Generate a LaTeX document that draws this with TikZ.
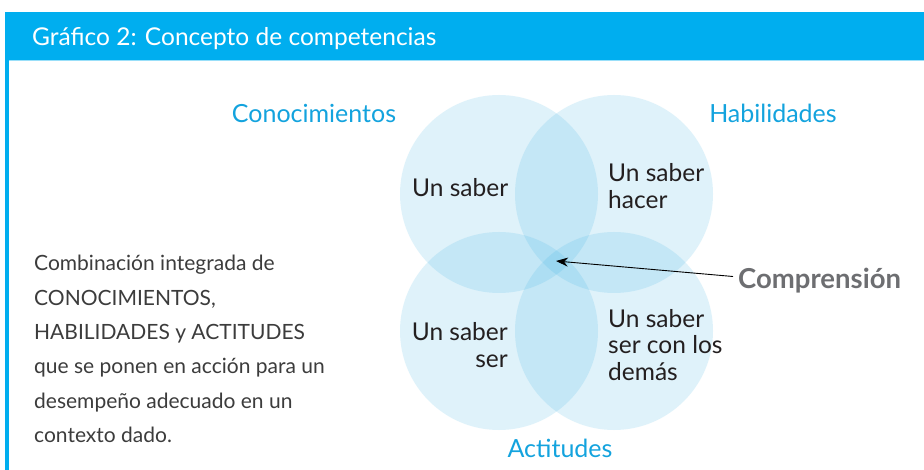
\documentclass[tikz,border=0pt]{standalone}
\usepackage{fontspec}
\setmainfont{Lato}
\usetikzlibrary{arrows.meta}
\definecolor{hdr}{HTML}{00AEEF}
\definecolor{circ}{HTML}{29ABE2}
\definecolor{lbl}{HTML}{13A3DE}
\definecolor{txt}{HTML}{231F20}
\definecolor{gtxt}{HTML}{3C3C3C}
\definecolor{comp}{HTML}{6D6E71}
\tikzset{
  venn/.style={fill=circ, fill opacity=0.145, draw=none},
  setlabel/.style={text=lbl, font=\fontsize{25}{28}\selectfont, inner sep=0pt},
  inner/.style={text=txt, font=\fontsize{24.5}{28}\selectfont, inner sep=0pt},
  desc/.style={text=gtxt, font=\fontsize{21}{24}\selectfont, inner sep=0pt, anchor=base west},
}
\begin{document}
\begin{tikzpicture}[x=1pt,y=-1pt]
\useasboundingbox (0,0) rectangle (924,470);
\fill[white] (0,0) rectangle (924,470);
% header
\fill[hdr] (5,12) rectangle (924,60);
\draw[hdr!40, line width=1pt] (7,60.5) -- (924,60.5);
\fill[hdr] (5,60) rectangle (8.5,470);
\node[anchor=base west, text=white, inner sep=0pt, font=\fontsize{24.5}{28}\selectfont] (title) at (32,46) {Gráfico 2: Concepto de competencias};
% circles
\fill[venn] (499,194) circle (99);
\fill[venn] (614,194) circle (99);
\fill[venn] (499,331) circle (99);
\fill[venn] (614,331) circle (99);
% set labels
\node[setlabel, anchor=base] (cono) at (314,123) {Conocimientos};
\node[setlabel, anchor=base] (habi) at (773,123) {Habilidades};
\node[setlabel, anchor=base] (acti) at (560,457) {Actitudes};
% inner texts
\node[inner, anchor=base west] (s1) at (412,197) {Un saber};
\node[inner, anchor=base west] (s2a) at (608,182) {Un saber};
\node[inner, anchor=base west] (s2b) at (608,208.5) {hacer};
\node[inner, anchor=base east] (s3a) at (508,340.5) {Un saber};
\node[inner, anchor=base east] (s3b) at (508,367) {ser};
\node[inner, anchor=base west] (s4a) at (608,327.5) {Un saber};
\node[inner, anchor=base west] (s4b) at (608,354) {ser con los};
\node[inner, anchor=base west] (s4c) at (608,380.5) {demás};
% comprension
\node[anchor=base west, inner sep=0pt, text=comp, font=\bfseries\fontsize{27.5}{30}\selectfont] (comp) at (738,289) {Comprensión};
\coordinate (start) at (733,276.5);
\coordinate (tip) at (556,261);
\draw[-{Stealth[length=12pt,width=9pt]}, line width=0.9pt] (start) -- (tip);
% left text
\node[desc] (d1) at (34,271) {Combinación integrada de};
\node[desc] (d2) at (34,305.3) {CONOCIMIENTOS,};
\node[desc] (d3) at (34,339.6) {HABILIDADES y ACTITUDES};
\node[desc] (d4) at (34,373.9) {que se ponen en acción para un};
\node[desc] (d5) at (34,408.2) {desempeño adecuado en un};
\node[desc] (d6) at (34,442.5) {contexto dado.};
\end{tikzpicture}
\end{document}
